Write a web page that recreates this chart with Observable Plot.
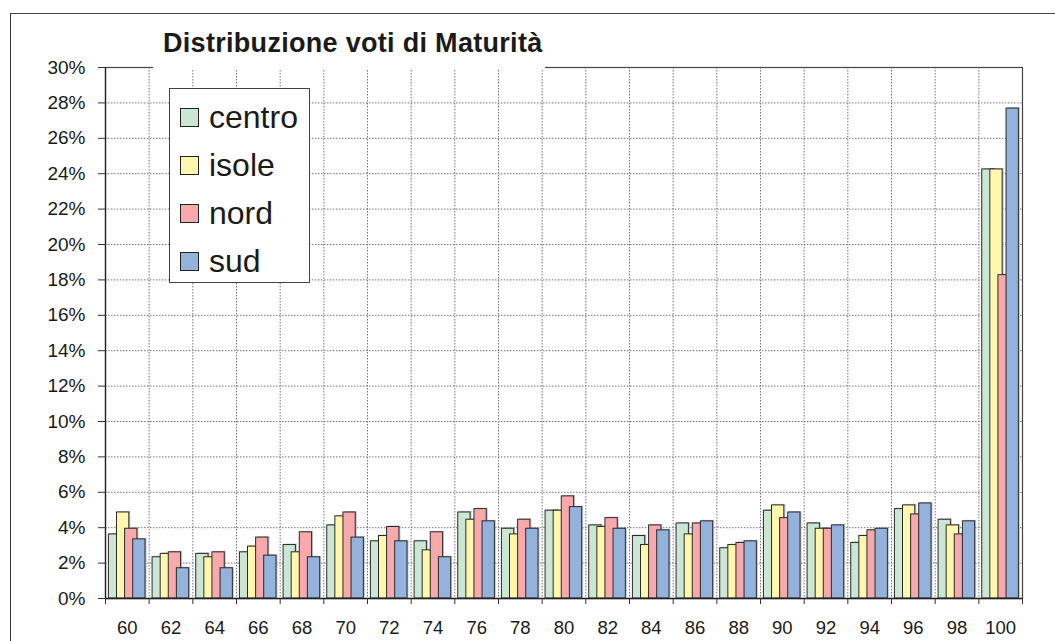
<!DOCTYPE html>
<html>
<head>
<meta charset="utf-8">
<script src="https://cdn.jsdelivr.net/npm/d3@7"></script>
<script src="https://cdn.jsdelivr.net/npm/@observablehq/plot@0.6"></script>
<style>
  html, body { margin: 0; padding: 0; background: #fff; }
  #wrap { position: relative; width: 1055px; height: 641px; overflow: hidden; font-family: "Liberation Sans", Arial, sans-serif; }
  #outer { position: absolute; left: 10px; top: 13px; right: -5px; bottom: -5px; border-left: 1.5px solid #333; border-top: 1.5px solid #444; }
  #chart { position: absolute; left: 0; top: 0; }
  #title { position: absolute; left: 153px; top: 24px; width: 392px; height: 45px; background: #fff;
           font-weight: bold; font-size: 27px; letter-spacing: 0.3px; line-height: 38px; padding-left: 10px; box-sizing: border-box; color: #1a1a1a; white-space: nowrap; }
  #legend { position: absolute; left: 169px; top: 88px; width: 141px; height: 195px; background: #fff; border: 1.5px solid #444; box-sizing: border-box; }
  .item { position: absolute; left: 10px; height: 40px; display: flex; align-items: center; font-size: 32px; color: #1a1a1a; }
  .sw { width: 19px; height: 19px; border: 1px solid #222; margin-right: 10px; box-sizing: border-box; }
</style>
</head>
<body>
<div id="wrap">
  <div id="outer"></div>
  <div id="chart"></div>
  <div id="title">Distribuzione voti di Maturità</div>
  <div id="legend"></div>
</div>
<script>
const categories = ["60","62","64","66","68","70","72","74","76","78","80","82","84","86","88","90","92","94","96","98","100"];
const seriesNames = ["centro","isole","nord","sud"];
const seriesColors = ["#cce6d4","#fff7ae","#f7a9ab","#93b3dc"];
const centro = [3.62,2.33,2.52,2.61,3.02,4.13,3.23,3.23,4.86,3.94,4.96,4.13,3.53,4.24,2.84,4.96,4.24,3.14,5.05,4.45,24.24];
const isole  = [4.86,2.52,2.33,2.93,2.61,4.64,3.53,2.72,4.45,3.62,4.96,4.04,3.02,3.62,3.02,5.26,3.94,3.53,5.26,4.13,24.24];
const nord   = [3.94,2.61,2.61,3.44,3.74,4.86,4.04,3.74,5.05,4.45,5.77,4.54,4.13,4.24,3.14,4.54,3.94,3.85,4.75,3.62,18.27];
const sud    = [3.34,1.71,1.71,2.42,2.33,3.44,3.23,2.33,4.36,3.94,5.16,3.94,3.85,4.36,3.23,4.86,4.13,3.94,5.37,4.36,27.68];
const yTicks = d3.range(0, 31, 2);

const seriesValues = [centro, isole, nord, sud];
const data = [];
seriesNames.forEach((s, si) => {
  seriesValues[si].forEach((v, ci) => data.push({cat: ci, si, series: s, value: v}));
});

// bar layout within each category band (in band units)
const pad = 0.078, step = 0.1855, bw = 0.282;
const x1 = d => d.cat + pad + d.si * step;
const x2 = d => d.cat + pad + d.si * step + bw;

const plot = Plot.plot({
  width: 1055,
  height: 641,
  marginLeft: 105,
  marginRight: 33,
  marginTop: 67,
  marginBottom: 43,
  style: {fontFamily: "'Liberation Sans', Arial, sans-serif", color: "#1a1a1a", background: "transparent"},
  x: {domain: [0, categories.length], axis: null, label: null},
  y: {domain: [0, 30], axis: null, label: null},
  color: {domain: seriesNames, range: seriesColors},
  marks: [
    Plot.ruleY(yTicks.filter(t => t > 0 && t < 30), {stroke: "#777", strokeDasharray: "1.5,1.5"}),
    Plot.ruleX(d3.range(1, categories.length), {stroke: "#777", strokeDasharray: "1.5,1.5"}),
    Plot.frame({stroke: "#444", strokeWidth: 1.2}),
    Plot.rectY(data, {x1, x2, y1: 0, y2: "value", fill: "#999", fillOpacity: 0.55, dx: 1.5, dy: -1}),
    Plot.rectY(data, {x1, x2, y1: 0, y2: "value", fill: "series", stroke: "#2a2a2a", strokeWidth: 1}),
    Plot.ruleX([0], {stroke: "#222", strokeWidth: 1.3}),
    Plot.ruleY([0], {stroke: "#222", strokeWidth: 1.3}),
    Plot.axisY({ticks: yTicks, tickFormat: d => d + "%", tickSize: 7, tickPadding: 13, fontSize: 19, anchor: "left", stroke: "#333", label: null}),
    Plot.axisX({ticks: d3.range(0, categories.length + 1), tickFormat: () => "", tickSize: 6, anchor: "bottom", stroke: "#333", label: null}),
    Plot.axisX({ticks: d3.range(categories.length).map(i => i + 0.5), tickFormat: v => categories[Math.floor(v)], tickSize: 0, tickPadding: 22, fontSize: 18.5, anchor: "bottom", label: null})
  ]
});
document.getElementById("chart").appendChild(plot);

const legend = document.getElementById("legend");
seriesNames.forEach((s, i) => {
  const it = document.createElement("div");
  it.className = "item";
  it.style.top = (8 + i * 48.3) + "px";
  const sw = document.createElement("div");
  sw.className = "sw";
  sw.style.background = seriesColors[i];
  const t = document.createElement("span");
  t.textContent = s;
  it.appendChild(sw); it.appendChild(t);
  legend.appendChild(it);
});
</script>
</body>
</html>
